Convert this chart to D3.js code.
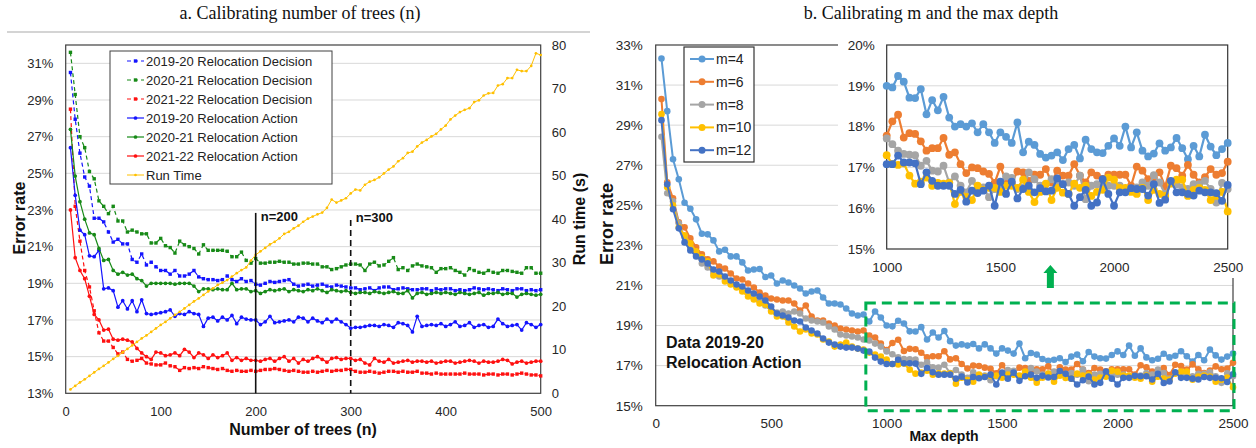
<!DOCTYPE html>
<meta charset="utf-8">
<style>
body { margin: 0; background: #fff; }
svg { display: block; font-family: "Liberation Sans", Arial, sans-serif; }
.title { font-family: "Liberation Serif", "Times New Roman", serif; font-size: 18px; fill: #111; }
.axis text { fill: #262626; }
.axis .domain { display: none; }
.lbl { font-weight: bold; fill: #111; }
</style>
<svg width="1256" height="448"></svg>
<script src="https://cdn.jsdelivr.net/npm/d3@7"></script>
<script>

// ---------- data : panel a (number of trees) ----------
var trees = d3.range(5, 501, 5)
var errTicksA = [13, 15, 17, 19, 21, 23, 25, 27, 29, 31]
var runTicks = [0, 10, 20, 30, 40, 50, 60, 70, 80]
var treeTicks = [0, 100, 200, 300, 400, 500]

var dec1920 = [30.5, 27.95, 26.1, 24.8, 24.3, 22.55, 22.55, 22.35, 21.8, 21.25, 21.4, 21.15, 21.15, 20.3, 20.15, 20.6, 20.0, 20.15, 19.9, 19.7,
  19.7, 19.5, 19.7, 19.4, 19.4, 19.5, 19.7, 19.35, 19.25, 19.2, 19.2, 19.15, 19.2, 19.4, 19.2, 19.1, 19.25, 19.1, 19.15, 18.95,
  18.9, 19.0, 19.1, 19.05, 19.1, 19.15, 19.2, 18.95, 18.85, 18.9, 18.95, 18.85, 18.9, 18.95, 18.85, 18.8, 18.9, 18.85, 18.8, 18.75,
  18.75, 18.65, 18.7, 18.75, 18.6, 18.75, 18.8, 18.8, 18.65, 18.7, 18.75, 18.7, 18.65, 18.65, 18.7, 18.7, 18.6, 18.7, 18.65, 18.7,
  18.7, 18.6, 18.65, 18.6, 18.65, 18.75, 18.7, 18.65, 18.7, 18.65, 18.6, 18.7, 18.65, 18.6, 18.7, 18.7, 18.6, 18.65, 18.6, 18.65]

var dec2021 = [31.6, 29.3, 27.0, 26.4, 25.1, 24.7, 23.5, 23.2, 22.8, 23.2, 22.4, 22.4, 21.8, 21.9, 21.8, 21.7, 21.7, 21.2, 21.2, 21.45,
  21.05, 20.95, 20.65, 21.3, 21.1, 21.0, 20.9, 20.6, 21.1, 20.8, 20.8, 20.8, 20.8, 20.75, 20.45, 20.45, 20.7, 20.25, 20.1, 20.35,
  20.1, 20.1, 20.15, 20.15, 20.2, 20.15, 20.15, 20.05, 20.05, 20.1, 20.1, 20.05, 20.05, 19.9, 19.9, 19.75, 19.8, 19.9, 20.0, 20.05,
  20.05, 20.0, 19.7, 20.05, 20.15, 19.95, 20.0, 20.2, 20.4, 19.75, 19.85, 19.7, 19.95, 20.05, 19.95, 19.9, 19.85, 19.6, 19.8, 19.8,
  19.85, 19.7, 19.6, 19.45, 19.8, 19.7, 19.6, 19.55, 19.7, 19.6, 19.55, 19.7, 19.7, 19.65, 19.6, 19.55, 19.85, 19.85, 19.55, 19.55]

var dec2122 = [28.5, 23.2, 21.3, 19.7, 18.8, 17.5, 16.3, 15.85, 15.85, 15.5, 15.15, 15.25, 14.85, 14.75, 14.8, 14.9, 14.65, 14.6, 14.55, 14.55,
  14.65, 14.5, 14.45, 14.25, 14.4, 14.35, 14.4, 14.35, 14.45, 14.4, 14.35, 14.3, 14.35, 14.25, 14.2, 14.25, 14.2, 14.2, 14.25, 14.2,
  14.25, 14.3, 14.3, 14.35, 14.3, 14.25, 14.2, 14.25, 14.2, 14.15, 14.15, 14.2, 14.15, 14.2, 14.25, 14.2, 14.25, 14.25, 14.3, 14.3,
  14.2, 14.15, 14.15, 14.2, 14.15, 14.1, 14.15, 14.2, 14.2, 14.15, 14.2, 14.15, 14.15, 14.2, 14.1, 14.1, 14.05, 14.1, 14.05, 14.05,
  14.05, 14.05, 14.05, 14.1, 14.05, 14.05, 14.05, 14.0, 14.05, 14.05, 14.0, 14.05, 14.05, 14.0, 14.05, 14.1, 14.05, 14.0, 14.0, 13.95]

var act1920 = [26.4, 23.8, 21.9, 21.65, 20.5, 20.45, 20.8, 18.7, 18.75, 18.6, 17.7, 18.05, 17.6, 18.05, 17.45, 18.1, 17.35, 17.3, 17.35, 17.4,
  17.45, 17.55, 17.2, 17.35, 17.3, 17.45, 17.35, 17.3, 16.65, 17.1, 17.15, 16.95, 17.15, 17.0, 17.25, 16.8, 17.15, 17.05, 17.0, 17.0,
  16.75, 16.9, 17.2, 16.85, 16.9, 16.95, 17.0, 16.9, 17.15, 17.1, 16.9, 17.1, 16.95, 16.85, 17.05, 16.9, 17.05, 16.9, 16.75, 16.55,
  16.6, 16.6, 16.65, 16.7, 16.7, 16.65, 16.75, 16.7, 16.6, 16.85, 16.8, 16.7, 16.35, 17.2, 16.65, 16.7, 16.75, 16.7, 16.8, 16.65,
  16.75, 16.9, 16.65, 16.7, 16.85, 16.6, 16.7, 16.75, 16.6, 16.65, 17.05, 16.8, 16.65, 16.7, 16.75, 16.45, 16.85, 16.75, 16.6, 16.75]

var act2021 = [27.4, 24.85, 23.45, 22.5, 21.75, 21.65, 20.9, 20.25, 20.3, 19.7, 19.5, 19.6, 19.45, 19.5, 19.25, 19.15, 18.85, 19.0, 19.0, 19.0,
  19.0, 19.0, 18.95, 19.0, 19.0, 19.0, 18.85, 18.55, 18.7, 18.7, 18.65, 18.7, 18.65, 18.65, 19.0, 18.65, 18.7, 18.7, 18.55, 18.6,
  18.45, 18.55, 18.65, 18.6, 18.65, 18.7, 18.55, 18.65, 18.6, 18.55, 18.65, 18.6, 18.7, 18.6, 18.5, 18.65, 18.6, 18.55, 18.6, 18.5,
  18.45, 18.5, 18.5, 18.45, 18.55, 18.5, 18.45, 18.5, 18.55, 18.45, 18.45, 18.6, 18.2, 18.45, 18.5, 18.4, 18.45, 18.5, 18.45, 18.5,
  18.45, 18.4, 18.5, 18.45, 18.4, 18.45, 18.5, 18.35, 18.45, 18.45, 18.5, 18.4, 18.45, 18.45, 18.25, 18.4, 18.45, 18.4, 18.35, 18.4]

var act2122 = [23.0, 20.4, 19.7, 19.25, 18.3, 17.3, 17.0, 16.45, 16.5, 15.95, 15.9, 15.95, 15.9, 15.8, 15.45, 15.2, 15.0, 14.85, 15.25, 15.2,
  15.05, 15.1, 15.2, 15.05, 15.4, 15.25, 14.95, 15.2, 15.1, 14.9, 15.1, 14.95, 15.05, 15.2, 14.8, 14.95, 14.8, 14.9, 14.8, 14.8,
  14.75, 14.85, 14.9, 14.75, 14.9, 15.0, 14.75, 14.9, 14.65, 14.85, 14.75, 14.9, 15.0, 14.85, 14.7, 14.9, 14.95, 14.85, 14.9, 14.9,
  14.8, 14.85, 14.65, 14.55, 14.9, 14.75, 14.7, 14.85, 14.65, 14.7, 14.75, 14.8, 14.7, 14.75, 14.75, 14.7, 14.75, 14.65, 14.7, 14.75,
  14.75, 14.65, 14.7, 14.75, 14.8, 14.75, 14.65, 14.75, 14.7, 14.7, 14.75, 14.85, 14.8, 14.6, 14.7, 14.75, 14.65, 14.7, 14.75, 14.75]

var runTime = [0.9, 1.7, 2.5, 3.2, 4.0, 4.8, 5.6, 6.3, 7.1, 7.9, 8.6, 9.4, 10.2, 11.0, 11.8, 12.6, 13.3, 14.1, 14.9, 15.7,
  16.4, 17.2, 18.0, 18.7, 19.5, 20.3, 21.1, 21.8, 22.6, 23.4, 24.1, 24.9, 25.4, 26.0, 26.8, 27.6, 28.3, 28.9, 30.5, 31.8,
  32.6, 33.4, 34.2, 34.8, 35.6, 36.6, 37.1, 37.9, 38.5, 39.4, 40.1, 40.6, 41.1, 41.5, 42.6, 44.5, 43.8, 44.3, 44.8, 45.9,
  46.8, 46.6, 47.9, 48.6, 49.0, 49.6, 50.5, 51.4, 52.1, 53.3, 54.0, 55.2, 55.5, 56.7, 57.6, 58.2, 59.0, 59.6, 60.6, 61.5,
  62.9, 63.8, 64.6, 65.1, 65.5, 66.9, 67.3, 68.4, 68.9, 69.0, 70.7, 71.0, 72.4, 72.4, 74.3, 74.0, 74.0, 75.2, 78.1, 77.7]

// ---------- data : panel b (m and max depth) ----------
var depth = d3.range(25, 2501, 25)
var errTicksB = [15, 17, 19, 21, 23, 25, 27, 29, 31, 33]
var depthTicks = [0, 500, 1000, 1500, 2000, 2500]
var insetTicksY = [15, 16, 17, 18, 19, 20]
var insetTicksX = [1000, 1500, 2000, 2500]

var m4 = [32.33, 29.7, 27.3, 26.3, 25.13, 24.83, 24.3, 23.58, 23.55, 23.25, 22.7, 22.78, 22.45, 22.45, 22.15, 21.75, 21.8, 21.82, 21.42, 21.5,
  21.1, 21.25, 21.15, 21.0, 20.85, 20.6, 20.7, 20.75, 20.4, 20.1, 20.1, 20.05, 19.85, 19.6, 19.5, 19.55, 19.2, 19.7, 19.4,
  19.0, 18.96, 19.24, 19.1, 18.71, 18.7, 18.92, 18.3, 18.65, 18.4, 18.73, 18.22, 18.0, 18.06, 18.0, 18.08, 17.86, 18.06, 17.86, 17.6,
  17.86, 17.75, 17.6, 18.1, 17.37, 17.63, 17.55, 17.33, 17.24, 17.29, 17.37, 17.18, 17.45, 17.55, 17.22, 17.68, 17.45, 17.37, 17.35, 17.53,
  17.71, 17.53, 18.0, 17.49, 17.86, 17.41, 17.27, 17.34, 17.59, 17.41, 17.49, 17.72, 17.47, 17.2, 17.53, 17.27, 17.8, 17.51, 17.3, 17.45, 17.6]

var m6 = [30.3, 26.15, 25.35, 24.15, 23.9, 23.35, 22.9, 22.55, 22.3, 22.2, 21.95, 21.85, 21.6, 21.35, 21.3, 21.1, 20.9, 20.65, 20.5, 20.35,
  20.3, 20.25, 20.25, 20.1, 19.75, 20.0, 19.45, 19.25, 19.25, 19.1, 19.0, 18.85, 18.8, 18.75, 18.7, 18.75, 18.5, 18.4, 18.1,
  17.78, 18.13, 18.29, 17.73, 17.84, 17.82, 17.64, 17.41, 17.47, 17.47, 17.72, 17.31, 17.37, 17.08, 16.86, 17.0, 16.98, 16.9, 16.84, 16.62,
  17.02, 16.67, 16.62, 16.9, 16.88, 16.67, 16.82, 16.82, 16.96, 16.63, 16.92, 16.8, 16.8, 17.08, 16.8, 16.63, 16.88, 16.8, 16.72, 16.82,
  16.82, 16.82, 16.82, 16.55, 17.02, 16.92, 16.71, 16.76, 16.88, 16.53, 17.04, 16.98, 16.8, 17.06, 16.82, 16.63, 16.76, 16.96, 16.82, 16.86, 17.14]

var m8 = [28.42, 25.6, 25.2, 24.1, 23.4, 22.9, 22.5, 22.1, 21.9, 21.65, 21.45, 21.3, 21.1, 20.95, 20.8, 20.6, 20.35, 20.25, 20.0, 19.75,
  19.65, 19.7, 19.6, 19.7, 19.6, 19.35, 19.25, 19.2, 19.15, 18.95, 18.8, 18.55, 18.5, 18.45, 18.4, 18.3, 18.25, 18.1, 17.95,
  17.71, 17.57, 17.41, 17.33, 17.31, 17.3, 17.04, 17.16, 16.92, 16.9, 17.04, 16.63, 16.78, 16.55, 16.39, 16.67, 16.47, 16.51, 16.27, 16.47,
  16.55, 16.78, 16.74, 16.47, 16.51, 16.88, 16.71, 16.55, 16.59, 16.71, 16.63, 16.59, 16.63, 16.55, 16.8, 16.22, 16.55, 16.59, 16.63, 16.55,
  16.55, 16.55, 16.47, 16.47, 16.51, 16.63, 16.55, 16.81, 16.63, 16.35, 16.63, 16.59, 16.51, 16.47, 16.59, 16.59, 16.67, 16.47, 16.14, 16.62, 16.47]

var m10 = [29.55, 25.9, 25.0, 23.9, 23.5, 23.1, 22.7, 22.4, 22.2, 21.5, 21.55, 21.2, 21.05, 20.9, 20.7, 20.45, 20.3, 20.1, 20.05, 19.7,
  19.45, 19.45, 19.15, 18.95, 18.7, 18.8, 18.6, 18.55, 18.3, 18.2, 17.95, 18.05, 18.15, 17.95, 17.85, 17.8, 17.65, 17.55, 17.45,
  17.3, 17.08, 17.06, 17.1, 16.8, 16.6, 16.65, 16.75, 16.55, 16.62, 16.6, 16.62, 16.1, 16.4, 16.28, 16.2, 16.55, 16.45, 16.5, 16.5,
  16.4, 16.55, 16.55, 16.5, 16.7, 16.4, 16.15, 16.4, 16.6, 16.2, 16.5, 16.38, 16.35, 16.6, 16.5, 16.55, 16.3, 16.4, 16.45, 16.75,
  16.7, 16.5, 16.5, 16.4, 16.35, 16.5, 16.2, 16.45, 16.35, 16.3, 16.6, 16.7, 16.7, 16.3, 16.45, 16.5, 16.45, 16.2, 16.3, 16.4, 15.92]

var m12 = [29.25, 26.05, 24.8, 23.85, 23.15, 22.75, 22.45, 22.3, 22.1, 21.8, 21.7, 21.45, 21.25, 21.05, 20.95, 20.75, 20.6, 20.45, 20.25, 19.95,
  19.6, 19.5, 19.4, 19.25, 19.2, 18.9, 18.75, 18.6, 18.35, 18.15, 18.05, 17.95, 17.9, 17.9, 17.85, 17.75, 17.7, 17.4, 17.2,
  17.08, 17.08, 17.29, 17.12, 17.12, 17.1, 16.59, 16.88, 16.67, 16.55, 16.55, 16.55, 16.35, 16.45, 16.16, 16.43, 16.37, 16.43, 16.55, 16.06,
  16.65, 16.35, 16.65, 16.24, 16.47, 16.55, 16.39, 16.49, 16.41, 16.43, 16.73, 16.59, 16.35, 16.06, 16.27, 16.45, 16.06, 16.14, 16.71, 16.35,
  16.06, 16.39, 16.39, 16.49, 16.47, 16.47, 16.31, 16.59, 16.13, 16.21, 16.67, 16.39, 16.39, 16.35, 16.31, 16.43, 16.39, 16.39, 16.37, 16.18, 16.57]

var seriesA = [
  { name: '2019-20 Relocation Decision', values: dec1920, color: '#1414ff', dash: '4,3', marker: 'square', axis: 'err' },
  { name: '2020-21 Relocation Decision', values: dec2021, color: '#178a17', dash: '4,3', marker: 'square', axis: 'err' },
  { name: '2021-22 Relocation Decision', values: dec2122, color: '#ff1010', dash: '4,3', marker: 'square', axis: 'err' },
  { name: '2019-20 Relocation Action', values: act1920, color: '#1414ff', marker: 'circle', axis: 'err' },
  { name: '2020-21 Relocation Action', values: act2021, color: '#178a17', marker: 'circle', axis: 'err' },
  { name: '2021-22 Relocation Action', values: act2122, color: '#ff1010', marker: 'circle', axis: 'err' },
  { name: 'Run Time', values: runTime, color: '#ffc000', marker: 'dot', axis: 'run' }
]

var seriesB = [
  { name: 'm=4', values: m4, color: '#5b9bd5' },
  { name: 'm=6', values: m6, color: '#ed7d31' },
  { name: 'm=8', values: m8, color: '#a5a5a5' },
  { name: 'm=10', values: m10, color: '#ffc000' },
  { name: 'm=12', values: m12, color: '#4472c4' }
]

var plain = d3.format('d')

var svg = d3.select('svg')
svg.append('rect').attr('width', 1256).attr('height', 448).attr('fill', '#fff')

/******************** panel a ********************/

var xA = d3.scaleLinear().domain([0, 500]).range([65.7, 540.7])
var yA = d3.scaleLinear().domain([13, 32]).range([393.3, 45])
var yRun = d3.scaleLinear().domain([0, 80]).range([393.3, 45])

svg.append('text').attr('class', 'title').attr('x', 300).attr('y', 19)
  .attr('text-anchor', 'middle').text('a. Calibrating number of trees (n)')
svg.append('line').attr('x1', 7).attr('x2', 590).attr('y1', 32).attr('y2', 32)
  .attr('stroke', '#d4d4d4').attr('stroke-width', 2)

var gA = svg.append('g')

// gridlines
gA.selectAll('.gridA').data(errTicksA.slice(1)).enter().append('line')
  .attr('x1', xA(0)).attr('x2', xA(500))
  .attr('y1', function (d) { return yA(d) }).attr('y2', function (d) { return yA(d) })
  .attr('stroke', '#d9d9d9').attr('stroke-width', 1)

gA.append('g').attr('class', 'axis').attr('transform', 'translate(' + xA(0) + ',0)')
  .call(d3.axisLeft(yA).tickValues(errTicksA).tickFormat(function (d) { return d + '%' }).tickSize(0).tickPadding(12.5))
  .attr('font-size', 13).attr('font-family', null)
gA.append('g').attr('class', 'axis').attr('transform', 'translate(' + xA(500) + ',0)')
  .call(d3.axisRight(yRun).tickValues(runTicks).tickFormat(plain).tickSize(0).tickPadding(11))
  .attr('font-size', 13).attr('font-family', null)
gA.append('g').attr('class', 'axis').attr('transform', 'translate(0,' + yA(13) + ')')
  .call(d3.axisBottom(xA).tickValues(treeTicks).tickFormat(plain).tickSize(0).tickPadding(13.5))
  .attr('font-size', 13).attr('font-family', null)

// frame
gA.append('rect').attr('x', xA(0)).attr('y', yA(32))
  .attr('width', xA(500) - xA(0)).attr('height', yA(13) - yA(32))
  .attr('fill', 'none').attr('stroke', '#404040').attr('stroke-width', 1.2)

function drawMarkers(g, pts, s, size) {
  if (s.marker === 'square') {
    g.selectAll(null).data(pts).enter().append('rect')
      .attr('x', function (d) { return d[0] - size / 2 }).attr('y', function (d) { return d[1] - size / 2 })
      .attr('width', size).attr('height', size).attr('fill', s.color)
  } else {
    g.selectAll(null).data(pts).enter().append('circle')
      .attr('cx', function (d) { return d[0] }).attr('cy', function (d) { return d[1] })
      .attr('r', s.marker === 'dot' ? size * 0.4 : size * 0.55).attr('fill', s.color)
  }
}

seriesA.forEach(function (s) {
  var ys = s.axis === 'run' ? yRun : yA
  var pts = s.values.map(function (v, i) { return [xA(trees[i]), ys(v)] })
  var g = gA.append('g')
  g.append('path').datum(pts).attr('d', d3.line())
    .attr('fill', 'none').attr('stroke', s.color)
    .attr('stroke-width', s.axis === 'run' ? 1 : 1.2)
    .attr('stroke-dasharray', s.dash || null)
  drawMarkers(g, pts, s, 3.4)
})

// n=200 and n=300 markers
gA.append('line').attr('x1', xA(200)).attr('x2', xA(200)).attr('y1', yA(22.84)).attr('y2', yA(13))
  .attr('stroke', '#111').attr('stroke-width', 1.6)
gA.append('line').attr('x1', xA(300)).attr('x2', xA(300)).attr('y1', yA(22.46)).attr('y2', yA(13))
  .attr('stroke', '#111').attr('stroke-width', 1.6).attr('stroke-dasharray', '6,4')
gA.append('text').attr('class', 'lbl').attr('x', xA(200) + 5).attr('y', 221).attr('font-size', 13).text('n=200')
gA.append('text').attr('class', 'lbl').attr('x', xA(300) + 5).attr('y', 222).attr('font-size', 13).text('n=300')

// legend
var legA = gA.append('g')
legA.append('rect').attr('x', 110).attr('y', 51).attr('width', 222).attr('height', 133)
  .attr('fill', '#fff').attr('stroke', '#404040').attr('stroke-width', 1)
seriesA.forEach(function (s, i) {
  var y = 61 + i * 19
  var g = legA.append('g')
  g.append('line').attr('x1', 127).attr('x2', 144).attr('y1', y).attr('y2', y)
    .attr('stroke', s.color).attr('stroke-width', s.axis === 'run' ? 1 : 1.2)
    .attr('stroke-dasharray', s.dash || null)
  drawMarkers(g, [[135.5, y]], s, 3.4)
  g.append('text').attr('x', 146).attr('y', y + 4.6).attr('font-size', 13).attr('fill', '#222').text(s.name)
})

// axis titles
svg.append('text').attr('class', 'lbl').attr('font-size', 16).attr('text-anchor', 'middle')
  .attr('transform', 'translate(25,218) rotate(-90)').text('Error rate')
svg.append('text').attr('class', 'lbl').attr('font-size', 16).attr('text-anchor', 'middle')
  .attr('transform', 'translate(585,219) rotate(-90)').text('Run time (s)')
svg.append('text').attr('class', 'lbl').attr('font-size', 16).attr('text-anchor', 'middle')
  .attr('x', 303).attr('y', 435).text('Number of trees (n)')

/******************** panel b ********************/

var xB = d3.scaleLinear().domain([0, 2500]).range([655.7, 1233])
var yB = d3.scaleLinear().domain([15, 33]).range([405.7, 45])
var xI = d3.scaleLinear().domain([1000, 2500]).range([886.7, 1227.7])
var yI = d3.scaleLinear().domain([15, 20]).range([249, 45])

svg.append('text').attr('class', 'title').attr('x', 931).attr('y', 19)
  .attr('text-anchor', 'middle').text('b. Calibrating m and the max depth')

var gB = svg.append('g')
gB.selectAll('.gridB').data(errTicksB.slice(1, -1)).enter().append('line')
  .attr('x1', xB(0)).attr('x2', xB(2500))
  .attr('y1', function (d) { return yB(d) }).attr('y2', function (d) { return yB(d) })
  .attr('stroke', '#d9d9d9').attr('stroke-width', 1)
gB.append('g').attr('class', 'axis').attr('transform', 'translate(' + xB(0) + ',0)')
  .call(d3.axisLeft(yB).tickValues(errTicksB).tickFormat(function (d) { return d + '%' }).tickSize(0).tickPadding(13))
  .attr('font-size', 13.5).attr('font-family', null)
gB.append('g').attr('class', 'axis').attr('transform', 'translate(0,' + yB(15) + ')')
  .call(d3.axisBottom(xB).tickValues(depthTicks).tickFormat(plain).tickSize(0).tickPadding(13))
  .attr('font-size', 13.5).attr('font-family', null)
gB.append('rect').attr('x', xB(0)).attr('y', yB(33))
  .attr('width', xB(2500) - xB(0)).attr('height', yB(15) - yB(33))
  .attr('fill', 'none').attr('stroke', '#404040').attr('stroke-width', 1.2)

seriesB.forEach(function (s) {
  var pts = s.values.map(function (v, i) { return [xB(depth[i]), yB(v)] })
  var g = gB.append('g')
  g.append('path').datum(pts).attr('d', d3.line())
    .attr('fill', 'none').attr('stroke', s.color).attr('stroke-width', 2)
  g.selectAll(null).data(pts).enter().append('circle')
    .attr('cx', function (d) { return d[0] }).attr('cy', function (d) { return d[1] })
    .attr('r', 3.3).attr('fill', s.color)
})

// legend
var legB = gB.append('g')
legB.append('rect').attr('x', 684).attr('y', 47).attr('width', 70).attr('height', 115)
  .attr('fill', '#fff').attr('stroke', '#333').attr('stroke-width', 1.2)
seriesB.forEach(function (s, i) {
  var y = 59 + i * 22.8
  legB.append('line').attr('x1', 690).attr('x2', 714).attr('y1', y).attr('y2', y)
    .attr('stroke', s.color).attr('stroke-width', 2)
  legB.append('circle').attr('cx', 702).attr('cy', y).attr('r', 3.5).attr('fill', s.color)
  legB.append('text').attr('x', 716).attr('y', y + 5).attr('font-size', 14).attr('fill', '#222').text(s.name)
})

// dataset note
gB.append('text').attr('class', 'lbl').attr('font-size', 16).attr('x', 666).attr('y', 348).text('Data 2019-20')
gB.append('text').attr('class', 'lbl').attr('font-size', 16).attr('x', 666).attr('y', 368).text('Relocation Action')

// zoom region box
gB.append('rect').attr('x', xB(910)).attr('y', yB(20.12))
  .attr('width', xB(2500) + 1 - xB(910)).attr('height', yB(15) + 5 - yB(20.12))
  .attr('fill', 'none').attr('stroke', '#00b050').attr('stroke-width', 3).attr('stroke-dasharray', '10,6')

// axis titles
svg.append('text').attr('class', 'lbl').attr('font-size', 18).attr('text-anchor', 'middle')
  .attr('transform', 'translate(613,224) rotate(-90)').text('Error rate')
svg.append('text').attr('class', 'lbl').attr('font-size', 14).attr('text-anchor', 'middle')
  .attr('x', 944).attr('y', 441).text('Max depth')

/******************** inset ********************/

var gI = svg.append('g')
gI.append('rect').attr('x', 838).attr('y', 35).attr('width', 414).attr('height', 243).attr('fill', '#fff')
gI.selectAll('.gridI').data(insetTicksY.slice(1, -1)).enter().append('line')
  .attr('x1', xI(1000)).attr('x2', xI(2500))
  .attr('y1', function (d) { return yI(d) }).attr('y2', function (d) { return yI(d) })
  .attr('stroke', '#d9d9d9').attr('stroke-width', 1)
gI.append('g').attr('class', 'axis').attr('transform', 'translate(' + xI(1000) + ',0)')
  .call(d3.axisLeft(yI).tickValues(insetTicksY).tickFormat(function (d) { return d + '%' }).tickSize(0).tickPadding(12))
  .attr('font-size', 13.5).attr('font-family', null)
gI.append('g').attr('class', 'axis').attr('transform', 'translate(0,' + yI(15) + ')')
  .call(d3.axisBottom(xI).tickValues(insetTicksX).tickFormat(plain).tickSize(0).tickPadding(13.5))
  .attr('font-size', 13.5).attr('font-family', null)
gI.append('rect').attr('x', xI(1000)).attr('y', yI(20))
  .attr('width', xI(2500) - xI(1000)).attr('height', yI(15) - yI(20))
  .attr('fill', 'none').attr('stroke', '#333').attr('stroke-width', 1.2)

seriesB.forEach(function (s) {
  var pts = []
  s.values.forEach(function (v, i) { if (depth[i] >= 1000) pts.push([xI(depth[i]), yI(v)]) })
  var g = gI.append('g')
  g.append('path').datum(pts).attr('d', d3.line())
    .attr('fill', 'none').attr('stroke', s.color).attr('stroke-width', 2.2)
  g.selectAll(null).data(pts).enter().append('circle')
    .attr('cx', function (d) { return d[0] }).attr('cy', function (d) { return d[1] })
    .attr('r', 3.9).attr('fill', s.color)
})

// green arrow pointing to the inset
var ax = xI(1720), ay = 265
svg.append('path')
  .attr('d', 'M' + ax + ',' + ay + 'l7,8h-3.5v15h-7v-15h-3.5z')
  .attr('fill', '#00b050')

</script>
